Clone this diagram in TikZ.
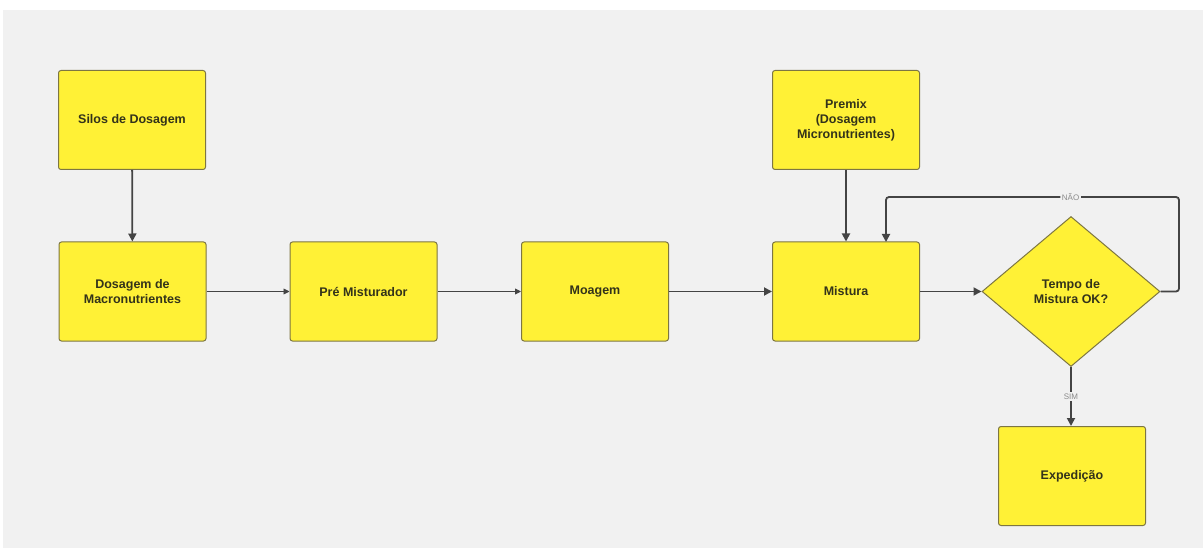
\documentclass[tikz,border=0pt]{standalone}
\usepackage{fontspec}
\setmainfont{Liberation Sans}
\usetikzlibrary{shapes.geometric,arrows.meta}
\definecolor{bg}{HTML}{F1F1F1}
\definecolor{boxfill}{HTML}{FFF136}
\definecolor{boxline}{HTML}{7D7642}
\definecolor{linec}{HTML}{444444}
\definecolor{txt}{HTML}{33331A}
\definecolor{lbl}{HTML}{8A8A8A}
\tikzset{
  x=1pt, y=-1pt,
  procbox/.style={draw=boxline, fill=boxfill, line width=1pt, rounded corners=2.5pt,
    minimum width=147pt, minimum height=99pt, inner sep=2pt, align=center,
    text=txt, font=\fontsize{12.5}{15}\selectfont\bfseries},
  decision/.style={diamond, draw=boxline, fill=boxfill, line width=1pt,
    minimum width=178pt, minimum height=150pt, inner sep=0pt, align=center,
    text=txt, font=\fontsize{12.5}{15}\selectfont\bfseries},
  thick arrow/.style={draw=linec, line width=1.8pt, -{Triangle[length=8pt,width=8pt]}},
  thin arrow/.style={draw=linec, line width=0.9pt, -{Triangle[length=6pt,width=6pt]}},
  edgelabel/.style={fill=bg, text=lbl, inner sep=1.5pt, font=\fontsize{8}{9}\selectfont}
}
\begin{document}
\begin{tikzpicture}
\useasboundingbox (0,0) rectangle (1203,548);
\fill[white] (0,0) rectangle (1203,548);
\fill[bg] (3,10) rectangle (1203,548);

\node[procbox] (silos) at (132,120) {Silos de Dosagem};
\node[procbox] (dosa) at (132.5,291.5) {Dosagem de\\Macronutrientes};
\node[procbox] (pre) at (363.5,291.5) {Pré Misturador};
\node[procbox] (moag) at (595,291.5) {Moagem};
\node[procbox] (mist) at (846,291.5) {Mistura};
\node[procbox] (premix) at (846,120) {Premix\\(Dosagem\\Micronutrientes)};
\node[decision] (dec) at (1071,291.5) {Tempo de\\Mistura OK?};
\node[procbox] (exp) at (1072,476) {Expedição};

\coordinate (loopA) at (1179,291.5);
\coordinate (loopB) at (1179,197);
\coordinate (loopC) at (886,197);
\coordinate (mistTop) at (886,242);

\draw[thick arrow] (silos) -- (dosa);
\draw[thin arrow] (dosa) -- (pre);
\draw[thin arrow] (pre) -- (moag);
\draw[thick arrow] (moag) -- (mist);
\draw[thick arrow] (premix) -- (mist);
\draw[thick arrow] (mist.east) -- (dec.west);
\draw[thick arrow, rounded corners=3pt] (dec.east) -- (loopA) -- (loopB) -- node[edgelabel, pos=0.37]{NÃO} (loopC) -- (mistTop);
\draw[thick arrow] (dec.south) -- node[edgelabel, pos=0.5]{SIM} (exp.north -| dec.south);
\end{tikzpicture}
\end{document}
